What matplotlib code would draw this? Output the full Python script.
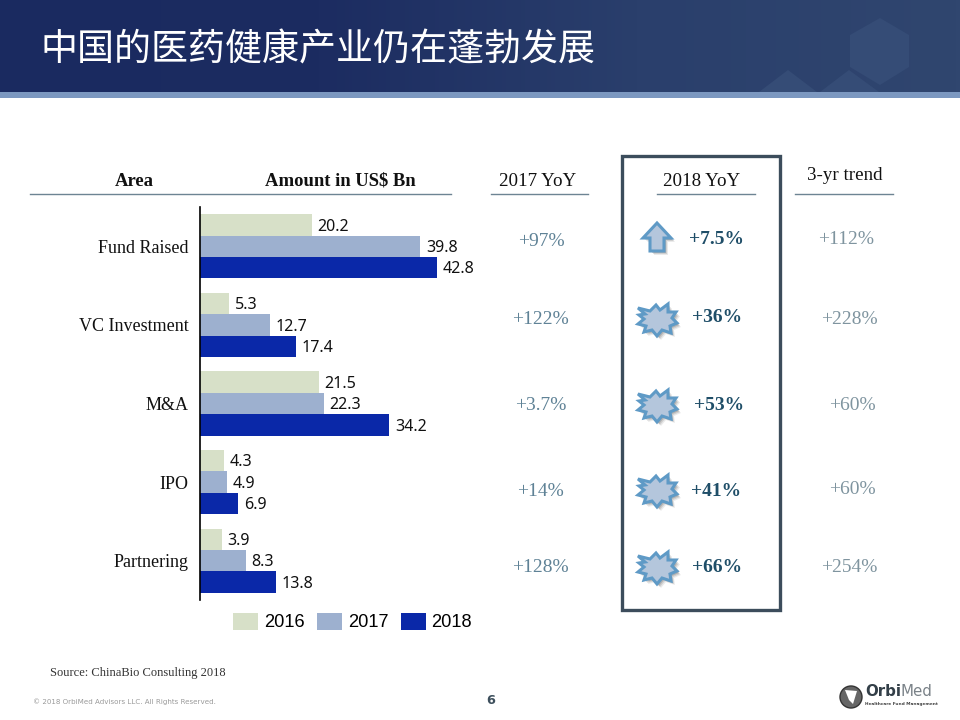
import matplotlib
matplotlib.use("Agg")
import matplotlib.pyplot as plt
import numpy as np
from matplotlib.colors import LinearSegmentedColormap
from matplotlib.patches import Polygon, Rectangle, Circle

areas = ["Fund Raised", "VC Investment", "M&A", "IPO", "Partnering"]
years = ["2016", "2017", "2018"]
amount_2016 = [20.2, 5.3, 21.5, 4.3, 3.9]
amount_2017 = [39.8, 12.7, 22.3, 4.9, 8.3]
amount_2018 = [42.8, 17.4, 34.2, 6.9, 13.8]
yoy_2017 = ["+97%", "+122%", "+3.7%", "+14%", "+128%"]
yoy_2018 = ["+7.5%", "+36%", "+53%", "+41%", "+66%"]
trend_3yr = ["+112%", "+228%", "+60%", "+60%", "+254%"]

bar_colors = ["#d7e0c8", "#9db0cf", "#0a28a8"]
SERIF = "Liberation Serif"


def px(size):
    return size * 0.72


def draw_icon(ax, points, cx, cy):
    xs = np.array([p[0] for p in points]) + cx
    ys = np.array([p[1] for p in points]) + cy
    for off, alpha in ((4, 0.12), (3, 0.18), (2, 0.25)):
        ax.add_patch(Polygon(np.column_stack([xs + off, ys + off]), fc="#555555", ec="none", alpha=alpha))
    ax.add_patch(Polygon(np.column_stack([xs, ys]), fc="#b4c6dc", ec="#5f9ac6", lw=2.2, joinstyle="miter"))


fig = plt.figure(figsize=(9.6, 7.2), dpi=100, facecolor="white")

# page furniture in pixel coords
bg = fig.add_axes([0, 0, 1, 1])
bg.axis("off")

cmap = LinearSegmentedColormap.from_list("hdr", ["#1a2a60", "#1c2c61", "#2a3f6c", "#30466f"])
bg.imshow(np.linspace(0, 1, 256).reshape(1, -1), extent=(0, 960, 92, 0), cmap=cmap, aspect="auto", zorder=0)
bg.set_xlim(0, 960)
bg.set_ylim(720, 0)
hex_color = "#354c76"
bg.add_patch(Polygon([(880, 18), (909, 35), (909, 67), (880, 85), (850, 67), (850, 35)], fc=hex_color, ec="none", zorder=1))
bg.add_patch(Polygon([(788, 70), (817, 92), (759, 92)], fc=hex_color, ec="none", zorder=1))
bg.add_patch(Polygon([(849, 70), (879, 92), (820, 92)], fc=hex_color, ec="none", zorder=1))
bg.add_patch(Rectangle((0, 92), 960, 6, fc="#7c98c0", ec="none", zorder=2))

bg.text(41, 50, "中国的医药健康产业仍在蓬勃发展", color="white", fontsize=px(37),
        family=["Noto Sans CJK SC", "DejaVu Sans"], va="center", ha="left", zorder=3)

# table headers
for txt, x, y in [("Area", 134, 182), ("Amount in US$ Bn", 340, 181)]:
    bg.text(x, y, txt, family=SERIF, weight="bold", fontsize=px(18.7), ha="center", va="center", color="#111111", zorder=3)
for txt, x, y in [("2017 YoY", 538, 182), ("2018 YoY", 702, 182), ("3-yr trend", 845, 176)]:
    bg.text(x, y, txt, family=SERIF, fontsize=px(19), ha="center", va="center", color="#111111", zorder=3)
for x0, x1 in [(30, 451), (491, 588), (657, 755), (795, 893)]:
    bg.plot([x0, x1], [194, 194], color="#6d8493", lw=1, zorder=3)

# highlighted column
bg.add_patch(Rectangle((621.5, 155.5), 158, 454, fc="none", ec="#3c4d5c", lw=2.4, zorder=3))

arrow = [(0, -14), (14, 1), (7, 1), (7, 14), (-7, 14), (-7, 1), (-14, 1)]
star = [(-19, -11), (-7, -8), (-1, -14), (3, -9), (11, -15), (11, -7), (19, -7), (15, -1), (20, 4), (13, 7),
        (14, 14), (5, 11), (0, 17), (-5, 11), (-13, 13), (-11, 7), (-19, 5), (-13, 0), (-18, -4), (-12, -5)]

yoy_17_x = [541, 540, 541, 540, 540]
yoy_17_y = [241, 319, 406, 491, 567]
yoy_18_x = [716, 717, 719, 716, 717]
yoy_18_y = [240, 318, 405, 491, 567]
trend_x = [846, 849, 852, 852, 849]
trend_y = [239, 319, 406, 489, 567]
icon_y = [237, 319, 405, 490, 567]
for i in range(len(areas)):
    bg.text(yoy_17_x[i], yoy_17_y[i], yoy_2017[i], family=SERIF, fontsize=px(19.5), ha="center", va="center", color="#5f8296")
    bg.text(yoy_18_x[i], yoy_18_y[i], yoy_2018[i], family=SERIF, weight="bold", fontsize=px(19.5), ha="center", va="center", color="#1f4e68")
    bg.text(trend_x[i], trend_y[i], trend_3yr[i], family=SERIF, fontsize=px(19.5), ha="center", va="center", color="#7f949f")
    draw_icon(bg, arrow if i == 0 else star, 657, icon_y[i])

# footer
bg.text(50, 673, "Source: ChinaBio Consulting 2018", family=SERIF, fontsize=px(12.5), ha="left", va="center", color="#333333")
bg.text(33, 702, "© 2018 OrbiMed Advisors LLC. All Rights Reserved.", fontsize=px(7.1), ha="left", va="center", color="#9a9a9a")
bg.text(491, 700, "6", fontsize=px(13), weight="bold", ha="center", va="center", color="#3d4f5c")
bg.add_patch(Circle((851, 697), 11, fc="#666666", ec="#333333", lw=1))
bg.add_patch(Polygon([(845, 690), (857, 691), (853, 704), (849, 700)], fc="white", ec="none"))
orbi = bg.text(865, 692, "Orbi", fontsize=px(15), weight="bold", ha="left", va="center", color="#333f48")
bg.annotate("Med", xy=(1, 0.5), xycoords=orbi, xytext=(0, 0), textcoords="offset points",
            fontsize=px(15), ha="left", va="center", color="#7a8288")
bg.text(865, 704, "Healthcare Fund Management", fontsize=px(4.2), weight="bold", ha="left", va="center", color="#444444")

# bars
ax = fig.add_axes([200 / 960, 120 / 720, 280 / 960, 393 / 720])
ax.patch.set_alpha(0)
y = np.arange(len(areas))
h = 0.272
for k, vals in enumerate([amount_2016, amount_2017, amount_2018]):
    bars = ax.barh(y + (k - 1) * h, vals, height=h, color=bar_colors[k], label=years[k])
    labels = ax.bar_label(bars, labels=[f"{v:.1f}" for v in vals], padding=4, fontsize=px(16), family="Noto Sans", color="#111111")
    for t in labels:
        t.xyann = (t.xyann[0], t.xyann[1] - 1.2)  # sit a bit lower, like the slide
ax.set_xlim(0, 280 / 5.54)
ax.set_ylim(len(areas) - 0.5, -0.5)
ax.set_yticks(y, areas, family=SERIF, fontsize=px(18), color="#111111")
ax.tick_params(axis="y", length=0, pad=8)
ax.xaxis.set_visible(False)
for side in ("top", "right", "bottom"):
    ax.spines[side].set_visible(False)
ax.spines["left"].set_linewidth(1.2)
ax.spines["left"].set_color("black")

fig.legend(loc="center left", bbox_to_anchor=(233 / 960, 1 - 622 / 720), ncol=3, frameon=False,
           prop={"family": "Liberation Sans", "size": px(18.3)}, handlelength=1.37, handleheight=1.04,
           handletextpad=0.33, columnspacing=0.66, borderpad=0, borderaxespad=0)

fig.savefig("out.png", dpi=100)
